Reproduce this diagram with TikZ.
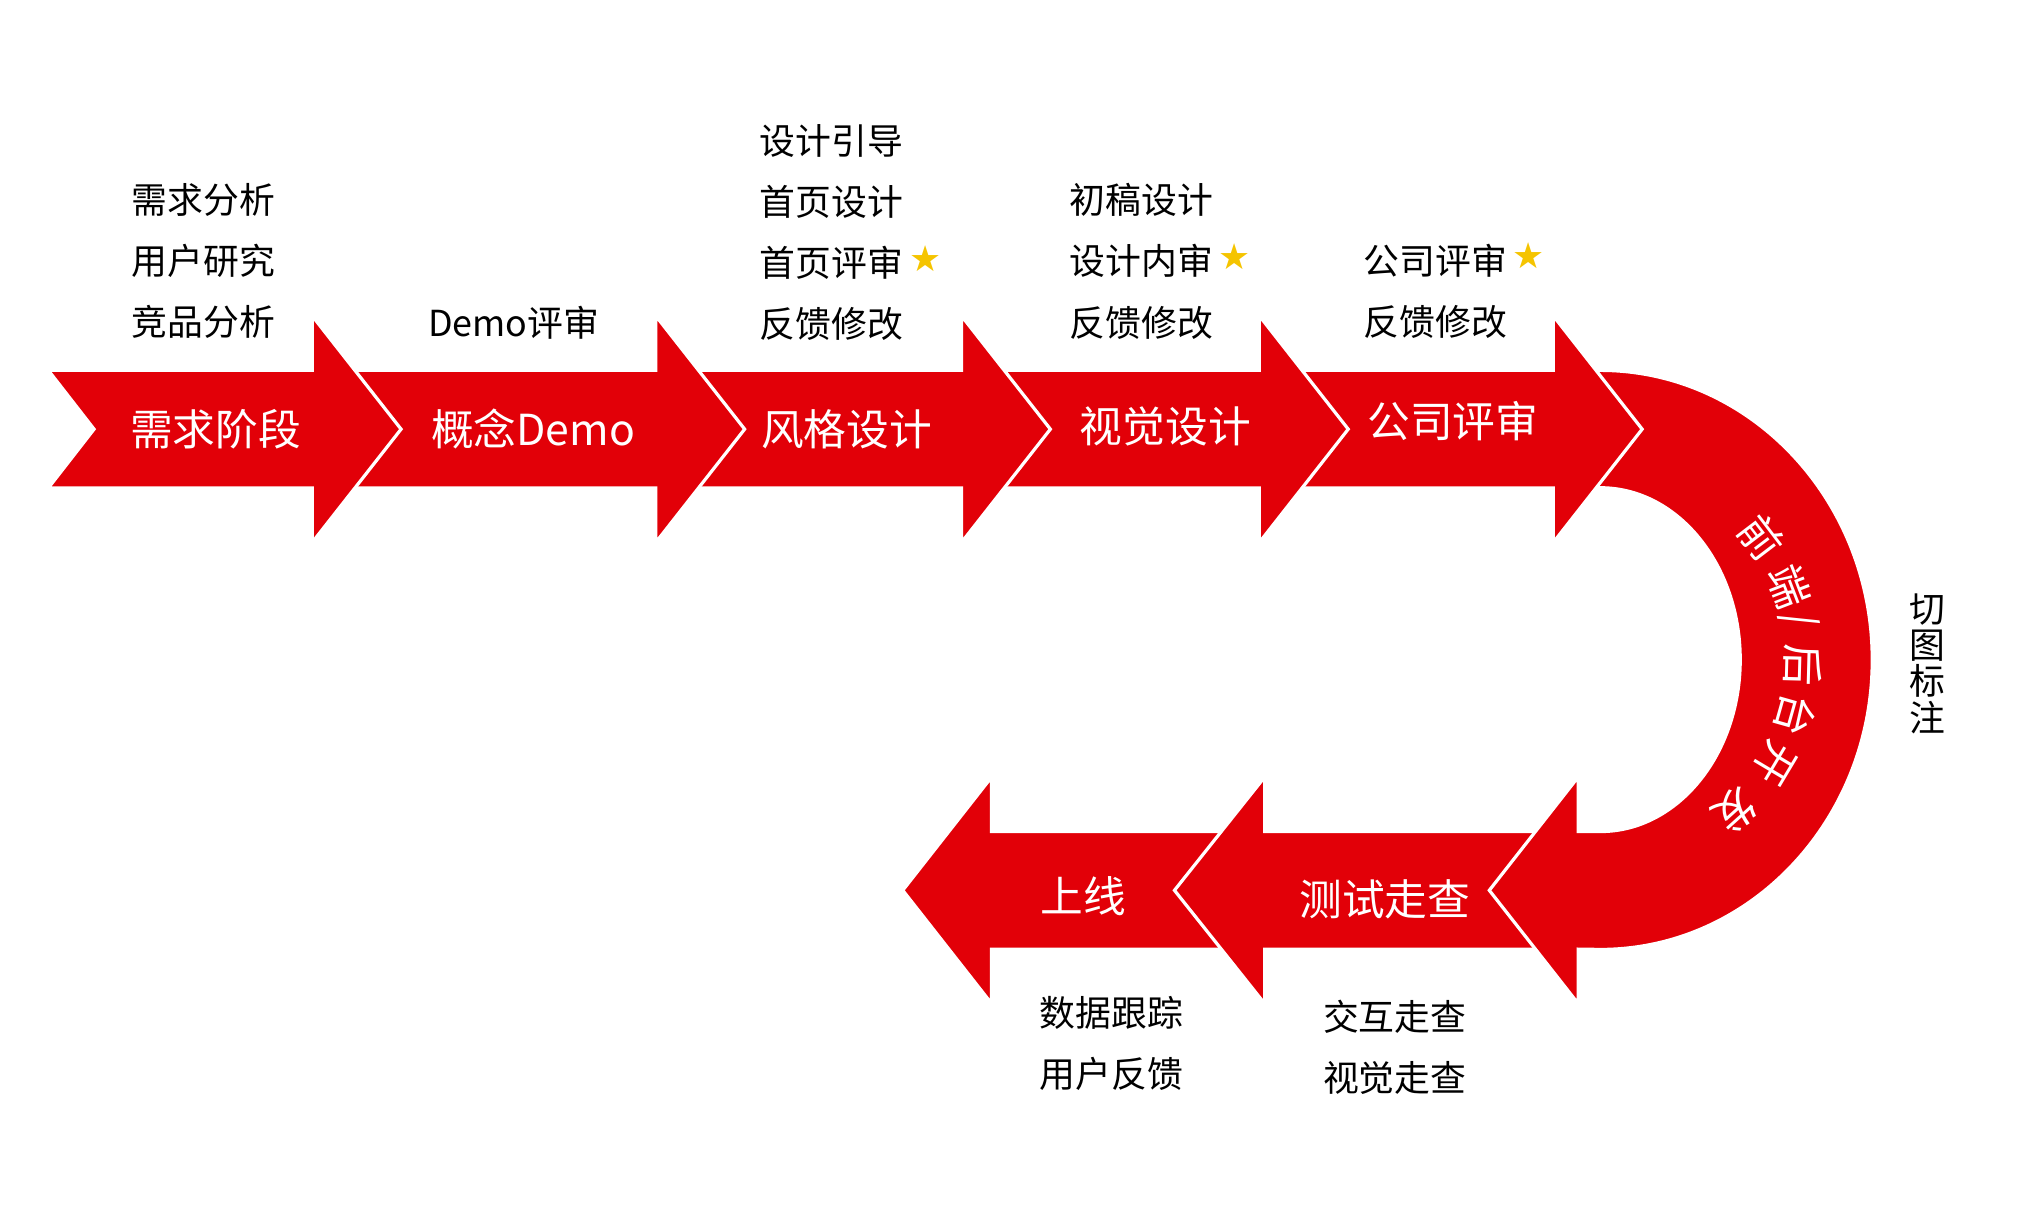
\documentclass[tikz,border=0pt]{standalone}
\usepackage{fontspec}
\setmainfont{Noto Sans CJK SC}
\newfontfamily\starfont{DejaVu Sans}
\usepackage{xcolor}
\usetikzlibrary{positioning,calc}
\definecolor{flowred}{RGB}{226,0,8}
\definecolor{stargold}{RGB}{245,196,0}
\newcommand{\keystar}{\,\raisebox{1.2pt}{\starfont\color{stargold}\fontsize{7.8}{7.8}\selectfont ★}}

\begin{document}
\begin{tikzpicture}[x = 0.01cm, y = 0.01cm,
    stagearrow/.style = {fill = flowred, draw = white, line width = 0.7pt, line join = miter},
    steplabel/.style = {text = white, inner sep = 0pt, font = \fontsize{9.3}{11}\selectfont},
    notelabel/.style = {anchor = west, align = left, inner sep = 0pt, font = \fontsize{7.8}{13.3}\selectfont},
    arclabel/.style = {text = white, inner sep = 0pt, font = \fontsize{9.2}{11}\selectfont}]
    \useasboundingbox (0,0) rectangle (1560,926);
    % bottom row, drawn first so the later stages lie on top
    \draw[stagearrow] (955,199.5) -- (759,199.5) -- (759,157.8) -- (691,244.5) -- (759,331.2) -- (759,289.5) -- (955,289.5) -- cycle;
    \draw[stagearrow] (1195,199.5) -- (968,199.5) -- (968,157.8) -- (899,244.5) -- (968,331.2) -- (968,289.5) -- (1195,289.5) -- cycle;
    % the bend
    \coordinate (arcc) at (1225,421);
    \draw[stagearrow] (1200,642.5) -- (1225,642.5) arc[start angle = 90, end angle = -90, x radius = 2.08cm, y radius = 2.215cm]
        -- (1208,199.5) -- (1208,157.8) -- (1140,244.5) -- (1208,331.2) -- (1208,289.5) -- (1225,289.5)
        arc[start angle = -90, end angle = 90, x radius = 1.07cm, y radius = 1.315cm] -- (1200,552.5) -- cycle;
    % top row
    \foreach \xs/\xb in {970/1189, 741/964, 507/736, 244/502}
        \draw[stagearrow] (\xs,552.5) -- (\xb,552.5) -- (\xb,510.8) -- (\xb+68,597.5) -- (\xb,684.2) -- (\xb,642.5) -- (\xs,642.5) -- cycle;
    \draw[stagearrow] (37,552.5) -- (239,552.5) -- (239,510.8) -- (307,597.5) -- (239,684.2) -- (239,642.5) -- (37,642.5) -- (72,597.5) -- cycle;

    \node[steplabel] (demand) at (165,597.5) {需求阶段};
    \node[steplabel] (concept) at (408,597.5) {概念Demo};
    \node[steplabel] (style) at (648,597.5) {风格设计};
    \node[steplabel] (visual) at (892,600) {视觉设计};
    \node[steplabel] (review) at (1112,604) {公司评审};
    \node[steplabel] (launch) at (829,240) {上线};
    \node[steplabel] (testing) at (1060,238) {测试走查};

    \foreach \ch/\ang [count = \i] in {前/37.3, 端/21.1, {\slash}/11.2, 后/-1.5, 台/-15.8, 开/-30.8, 发/-48}
        \node[arclabel, rotate = \ang-90] (dev-\i) at ($(arcc)+(\ang:155)$) {\ch};

    \node[notelabel] (demandnote) at (100,726) {需求分析\\用户研究\\竞品分析};
    \node[notelabel] (conceptnote) at (327,679) {Demo评审};
    \node[notelabel] (stylenote) at (581,748) {设计引导\\首页设计\\首页评审\keystar\\反馈修改};
    \node[notelabel] (visualnote) at (818,726) {初稿设计\\设计内审\keystar\\反馈修改};
    \node[notelabel] (reviewnote) at (1043,703.5) {公司评审\keystar\\反馈修改};
    \node[notelabel] (launchnote) at (795,127.5) {数据跟踪\\用户反馈};
    \node[notelabel] (testingnote) at (1012,124.5) {交互走查\\视觉走查};
    \node[align = center, inner sep = 0pt, font = \fontsize{7.8}{7.9}\selectfont] (cutnote) at (1475,418) {切\\图\\标\\注};
\end{tikzpicture}
\end{document}
